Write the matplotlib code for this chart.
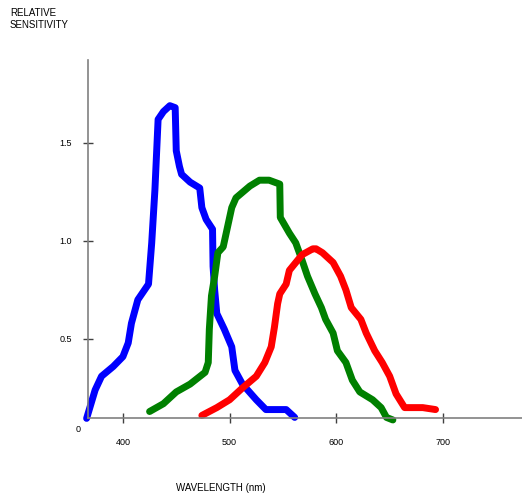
import numpy as np
import matplotlib
matplotlib.use("Agg")
import matplotlib.pyplot as plt

plt.rcParams['font.family'] = ['Liberation Sans', 'DejaVu Sans']

# curves: wavelength (nm), relative sensitivity
blue_nm = [366, 374, 380, 391, 400, 405, 408, 414, 424, 427, 430, 433, 438, 444, 449,
           450, 453, 455, 463, 472, 474, 478, 484, 484.5, 486, 488, 495, 502, 505, 512,
           525, 534, 553, 561]
blue_val = [0.095, 0.24, 0.31, 0.36, 0.41, 0.48, 0.58, 0.70, 0.78, 0.99, 1.26, 1.62, 1.66, 1.69, 1.68,
            1.46, 1.38, 1.34, 1.30, 1.27, 1.17, 1.11, 1.06, 0.87, 0.75, 0.63, 0.55, 0.46, 0.34, 0.27,
            0.19, 0.14, 0.14, 0.10]

green_nm = [425, 438, 450, 463, 477, 480, 481, 483, 486, 489, 494, 498, 502, 506, 519,
            528, 537, 547, 547.5, 556, 562, 568, 573, 580, 586, 590, 597, 601, 609, 615,
            622, 634, 642, 647, 653]
green_val = [0.13, 0.17, 0.23, 0.27, 0.33, 0.38, 0.55, 0.72, 0.82, 0.94, 0.97, 1.07, 1.17, 1.22, 1.28,
             1.31, 1.31, 1.29, 1.12, 1.04, 0.99, 0.90, 0.82, 0.73, 0.66, 0.60, 0.53, 0.44, 0.38, 0.29,
             0.23, 0.19, 0.15, 0.10, 0.087]

red_nm = [474, 488, 500, 512, 525, 533, 539, 542, 545, 547, 553, 556, 568, 578, 581,
          587, 597, 604, 609, 614, 623, 628, 636, 643, 650, 656, 664, 681, 693]
red_val = [0.11, 0.15, 0.19, 0.25, 0.31, 0.38, 0.46, 0.56, 0.68, 0.73, 0.78, 0.85, 0.93, 0.96, 0.96,
           0.94, 0.89, 0.82, 0.75, 0.66, 0.60, 0.53, 0.44, 0.38, 0.31, 0.22, 0.15, 0.15, 0.14]

x_ticks = [400, 500, 600, 700]
y_ticks = [0.5, 1.0, 1.5]

fig = plt.figure(figsize=(5.22, 4.98), dpi=100)
ax = fig.add_axes([88 / 522, 80 / 498, 1 - 88 / 522, 358 / 498])

for xs, ys, c in [(blue_nm, blue_val, '#0000ff'),
                  (green_nm, green_val, '#008000'),
                  (red_nm, red_val, '#ff0000')]:
    ax.plot(xs, ys, color=c, linewidth=5, solid_capstyle='round',
            solid_joinstyle='round', clip_on=False)

ax.set_xlim(367.3, 774)
ax.set_ylim(0.097, 1.923)

for s in ['top', 'right']:
    ax.spines[s].set_visible(False)
for s in ['left', 'bottom']:
    ax.spines[s].set_color('#808080')
    ax.spines[s].set_linewidth(1.2)

ax.set_xticks(x_ticks)
ax.set_xticklabels([str(v) for v in x_ticks])
ax.set_yticks(y_ticks)
ax.set_yticklabels(['%.1f' % v for v in y_ticks])
ax.tick_params(axis='both', direction='inout', length=7, width=1, color='#404040',
               labelsize=6.5, labelcolor='black')
ax.tick_params(axis='x', pad=11)
ax.tick_params(axis='y', pad=8)

ax.annotate('0', xy=(0, 0), xycoords='axes fraction', xytext=(-7, -8),
            textcoords='offset points', fontsize=6.5, ha='center', va='center')

fig.text(10 / 522, 1 - 8 / 498, 'RELATIVE\nSENSITIVITY', fontsize=7,
         ha='left', va='top', linespacing=1.3)
fig.text(221 / 522, 1 - 488 / 498, 'WAVELENGTH (nm)', fontsize=7,
         ha='center', va='center')

fig.savefig('out.png', dpi=100)
